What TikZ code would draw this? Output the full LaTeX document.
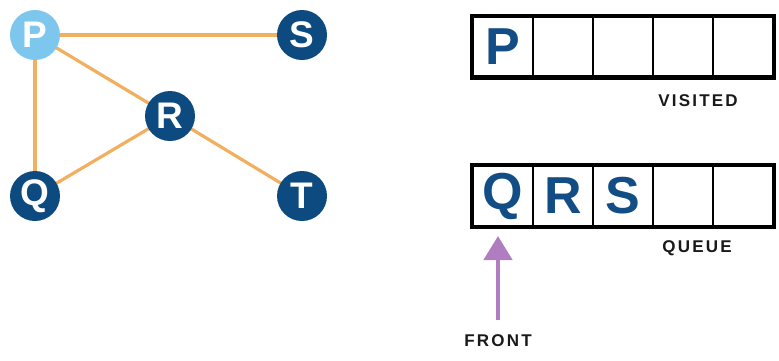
\documentclass[tikz,border=0pt]{standalone}
\usepackage{fontspec}
\setmainfont{Liberation Sans}
\usetikzlibrary{arrows.meta}
\definecolor{navy}{HTML}{0D4A80}
\definecolor{sky}{HTML}{7DC7EF}
\definecolor{edgeor}{HTML}{F0B060}
\definecolor{arrowp}{HTML}{B07DC0}
\definecolor{cellblue}{HTML}{124E85}
\tikzset{
  vertex/.style={circle, fill=navy, minimum size=50pt, inner sep=0pt, text=white,
    font=\fontsize{37}{37}\selectfont\bfseries},
  startv/.style={vertex, fill=sky},
  edge/.style={draw=edgeor, line width=3.2pt},
  cell/.style={draw=black, line width=2.4pt, minimum width=60pt, minimum height=60pt,
    inner sep=0pt, text=cellblue, font=\fontsize{52}{52}\selectfont\bfseries},
  frame/.style={draw=black, line width=3.6pt},
  caption/.style={font=\fontsize{17}{17}\selectfont\bfseries\addfontfeature{LetterSpace=13}, text=black!90},
}
\begin{document}
\begin{tikzpicture}[x=1pt,y=-1pt]
\useasboundingbox (0,0) rectangle (779,360);
% graph
\coordinate (cP) at (35,35);
\coordinate (cS) at (302,35);
\coordinate (cR) at (170,116);
\coordinate (cQ) at (35,196);
\coordinate (cT) at (302,196);
\draw[edge] (cP) -- (cS);
\draw[edge] (cP) -- (cR);
\draw[edge] (cP) -- (cQ);
\draw[edge] (cR) -- (cQ);
\draw[edge] (cR) -- (cT);
\node[startv] (P) at (cP) {P};
\node[vertex] (S) at (cS) {S};
\node[vertex] (R) at (cR) {R};
\node[vertex] (Q) at (cQ) {Q};
\node[vertex] (T) at (cT) {T};
% visited
\node[cell] (v1) at (503,46.5) {P};
\node[cell] (v2) at (563,46.5) {};
\node[cell] (v3) at (623,46.5) {};
\node[cell] (v4) at (683,46.5) {};
\node[cell] (v5) at (743,46.5) {};
\draw[frame] (v1.north west) rectangle (v5.south east);
\node[caption] (vis) at (698,101) {VISITED};
% queue
\node[cell] (q1) at (503,196) {Q};
\node[cell] (q2) at (563,196) {R};
\node[cell] (q3) at (623,196) {S};
\node[cell] (q4) at (683,196) {};
\node[cell] (q5) at (743,196) {};
\draw[frame] (q1.north west) rectangle (q5.south east);
\node[caption] (que) at (697,248) {QUEUE};
\node[caption] (front) at (498,341) {FRONT};
\coordinate (abase) at (498,320);
\coordinate (atip) at (498,236);
\draw[arrowp, line width=4.5pt, -{Triangle[length=24pt,width=28pt]}] (abase) -- (atip);
\end{tikzpicture}
\end{document}
